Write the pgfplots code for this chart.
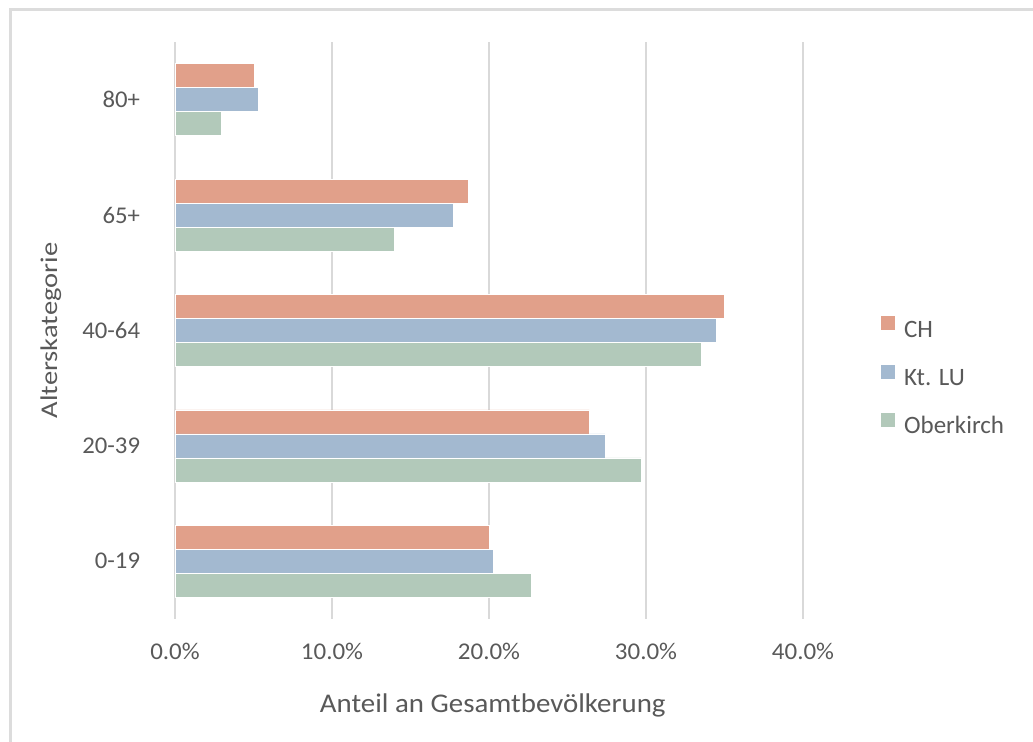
\documentclass[border=0pt]{standalone}
\usepackage{fontspec}
\setmainfont{Carlito}
\usepackage{pgfplots}
\pgfplotsset{compat=1.18}

\definecolor{txt}{HTML}{595959}
\definecolor{gridc}{HTML}{D9D9D9}
\definecolor{framec}{HTML}{DCDCDC}
\definecolor{chc}{HTML}{E1A08A}
\definecolor{luc}{HTML}{A3B9D0}
\definecolor{obc}{HTML}{B2C9BA}

% Anteile in Prozent: 0-19, 20-39, 40-64, 65+, 80+
\pgfplotstableread{
y   ch     lu     ob
0   20.0   20.3   22.7
1   26.4   27.4   29.7
2   35.0   34.5   33.5
3   18.7   17.75  14.0
4   5.05   5.3    2.95
}\altersdaten

\begin{document}
\begin{tikzpicture}
\path[use as bounding box] (0,0) rectangle (516.5pt,371pt);
\draw[line width=1.2pt, color=framec] (5.25pt,0pt) -- (5.25pt,366.25pt) -- (516.5pt,366.25pt);
\begin{axis}[
  at={(87.5pt,61.5pt)}, anchor=south west,
  scale only axis, width=314pt, height=288.5pt,
  xbar, bar width=12pt,
  xmin=0, xmax=40, ymin=-0.5, ymax=4.5,
  xtick={0,10,20,30,40},
  xticklabels={0.0\%,10.0\%,20.0\%,30.0\%,40.0\%},
  ytick={0,1,2,3,4},
  yticklabels={0-19,20-39,40-64,65+,80+},
  xmajorgrids, ymajorgrids=false,
  grid style={line width=1pt, color=gridc},
  axis line style={draw=none},
  tick style={draw=none},
  x tick label style={font=\fontsize{12}{14}\selectfont, text=txt, anchor=center, inner sep=0pt, yshift=-16pt, xscale=1.04},
  y tick label style={font=\fontsize{12}{14}\selectfont, text=txt, anchor=east, inner sep=0pt, xshift=-13pt, xscale=1.03},
  xlabel={\scalebox{1.07}[1]{Anteil an Gesamtbevölkerung}},
  xlabel style={at={(rel axis cs:0.506,-0.15)}, anchor=center, inner sep=0pt, font=\fontsize{13.5}{16}\selectfont, text=txt},
  ylabel={\scalebox{1.19}[1]{Alterskategorie}},
  ylabel style={at={(rel axis cs:-0.1975,0.5)}, anchor=center, inner sep=0pt, font=\fontsize{12}{14}\selectfont, text=txt},
  legend style={at={(1.1237,0.4194)}, anchor=west, draw=none, fill=none, inner sep=0pt,
    font=\fontsize{12.5}{14}\selectfont, text=txt, row sep=11.75pt, column sep=4.5pt,
    nodes={inner sep=0pt, text height=8pt, text depth=2pt}},
  legend cell align=left,
  legend image code/.code={\draw[#1,draw=none] (0pt,0.4pt) rectangle (7pt,7.4pt);},
]
\addplot[fill=chc, draw=white, line width=0.3pt, bar shift=12pt] table[x=ch, y=y] {\altersdaten};
\addplot[fill=luc, draw=white, line width=0.3pt, bar shift=0pt] table[x=lu, y=y] {\altersdaten};
\addplot[fill=obc, draw=white, line width=0.3pt, bar shift=-12pt] table[x=ob, y=y] {\altersdaten};
\legend{CH, Kt. LU, Oberkirch}
\end{axis}
\end{tikzpicture}
\end{document}
